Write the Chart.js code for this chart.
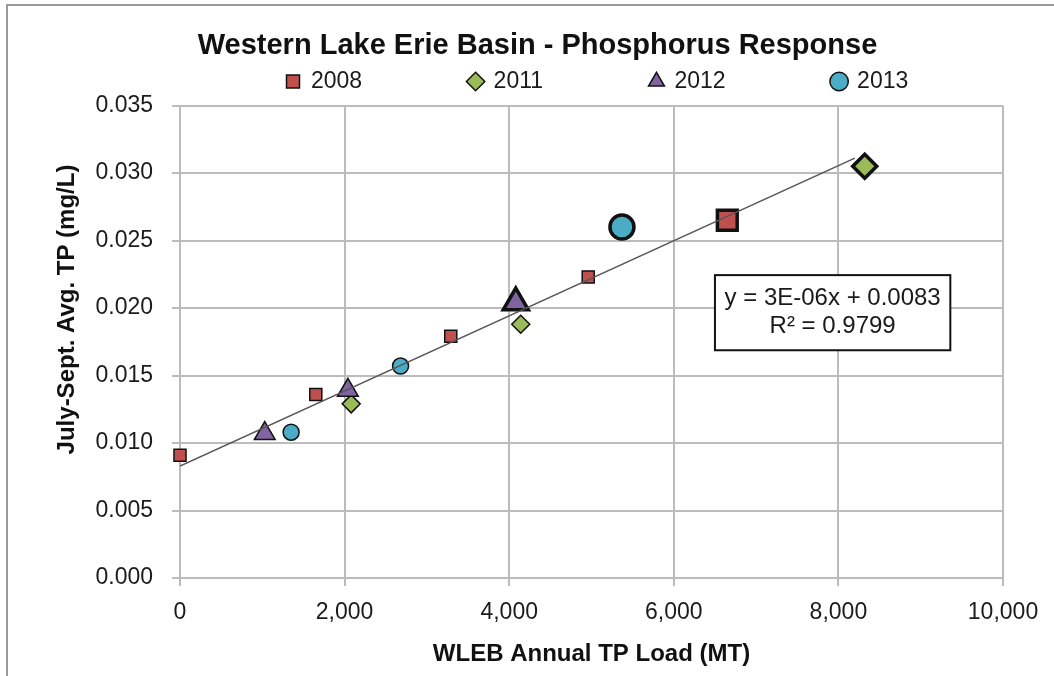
<!DOCTYPE html>
<html>
<head>
<meta charset="utf-8">
<script src="https://cdn.jsdelivr.net/npm/chart.js@4.4.1/dist/chart.umd.min.js"></script>
<style>
  body { margin: 0; background: #fff; }
  #wrap { position: relative; width: 1054px; height: 676px; }
  #frame { position: absolute; left: 6px; top: 4px; right: 0; bottom: 0;
           border-left: 2px solid #9a9a9a; border-top: 2px solid #9a9a9a; pointer-events: none; }
</style>
</head>
<body>
<div id="wrap"><canvas id="chart"></canvas><div id="frame"></div></div>
<script>
const FONT = "'Liberation Sans', Arial, Helvetica, sans-serif";
Chart.defaults.font.family = FONT;
Chart.defaults.color = '#1a1a1a';

// Text
const chartTitle = 'Western Lake Erie Basin - Phosphorus Response';
const xTitle = 'WLEB Annual TP Load (MT)';
const yTitle = 'July-Sept. Avg. TP (mg/L)';
const equationLines = ['y = 3E-06x + 0.0083', 'R\u00b2 = 0.9799'];

// Data: WLEB load (MT) vs July-Sept avg TP (mg/L), per year
const seriesNames = ['2008', '2011', '2012', '2013'];
const load2008 = [0, 1650, 3290, 4960, 6650];
const tp2008 = [0.0091, 0.0136, 0.0179, 0.0223, 0.0265];
const load2011 = [2080, 4140, 8320];
const tp2011 = [0.0129, 0.0188, 0.0305];
const load2012 = [1030, 2040, 4080];
const tp2012 = [0.0107, 0.0139, 0.0204];
const load2013 = [1350, 2680, 5370];
const tp2013 = [0.0108, 0.0157, 0.0260];

// Linear trendline end points
const trendName = 'Linear';
const trendLoad = [0, 8200];
const trendTp = [0.0083, 0.0311];

function points(xs, ys) {
  return xs.map((x, i) => ({ x: x, y: ys[i] }));
}
// last point in each year = full year value, drawn bigger
function lastBig(small, big) {
  return ctx => ctx.dataIndex === ctx.dataset.data.length - 1 ? big : small;
}

// spread legend items ~183px apart
const legendFontSize = 23;
const mctx = document.createElement('canvas').getContext('2d');
mctx.font = legendFontSize + 'px ' + FONT;
const labelW = mctx.measureText('2008').width;
const legendPad = 182.6 - (13 + legendFontSize / 2 + labelW);

const placeBlocks = {
  id: 'placeBlocks',
  afterLayout(chart) {
    const lg = chart.legend;
    const pad = lg.options.labels.padding;
    lg.top = 70 - pad;
    const lw = lg.lineWidths[0];
    const left = (2 * 286.5 - 900 - pad + lw) / 2;
    lg.left = left;
    lg.right = left + 900;
    chart.titleBlock.left += 36;
    chart.titleBlock.right += 36;
  }
};

const extras = {
  id: 'extras',
  afterDraw(chart) {
    const ctx = chart.ctx;
    const a = chart.chartArea;
    const w = a.right - a.left, h = a.bottom - a.top;
    // y axis title
    ctx.save();
    ctx.translate(67, 309.5);
    ctx.rotate(-Math.PI / 2);
    ctx.font = 'bold 24px ' + FONT;
    ctx.fillStyle = '#111';
    ctx.textAlign = 'center';
    ctx.textBaseline = 'middle';
    ctx.fillText(yTitle, 0, 0);
    ctx.restore();
    // equation box
    const bx = a.left + 0.65 * w, by = a.top + 0.359 * h;
    const bw = 0.286 * w, bh = 0.159 * h;
    ctx.save();
    ctx.fillStyle = '#fff';
    ctx.fillRect(bx, by, bw, bh);
    ctx.lineWidth = 2;
    ctx.strokeStyle = '#111';
    ctx.strokeRect(bx, by, bw, bh);
    ctx.font = '24px ' + FONT;
    ctx.fillStyle = '#1a1a1a';
    ctx.textAlign = 'center';
    ctx.textBaseline = 'middle';
    ctx.fillText(equationLines[0], bx + bw / 2, by + 23);
    ctx.fillText(equationLines[1], bx + bw / 2, by + 51);
    ctx.restore();
  }
};

const gridColor = '#bcbcbc';

// later years drawn on top (lower order = on top)
new Chart(document.getElementById('chart'), {
  type: 'scatter',
  data: {
    datasets: [
      {
        label: seriesNames[0], data: points(load2008, tp2008), order: 4, clip: false,
        pointStyle: 'rect', backgroundColor: '#c0504d', borderColor: '#111',
        pointRadius: lastBig(8.5, 14), pointBorderWidth: lastBig(1.5, 3.5)
      },
      {
        label: seriesNames[1], data: points(load2011, tp2011), order: 3, clip: false,
        pointStyle: 'rectRot', backgroundColor: '#9bbb59', borderColor: '#111',
        pointRadius: lastBig(9, 12), pointBorderWidth: lastBig(1.5, 3.5)
      },
      {
        label: seriesNames[2], data: points(load2012, tp2012), order: 2, clip: false,
        pointStyle: 'triangle', backgroundColor: '#8064a2', borderColor: '#111',
        pointRadius: lastBig(12, 14.5), pointBorderWidth: lastBig(1.5, 3.5)
      },
      {
        label: seriesNames[3], data: points(load2013, tp2013), order: 1, clip: false,
        pointStyle: 'circle', backgroundColor: '#4bacc6', borderColor: '#111',
        pointRadius: lastBig(8, 12), pointBorderWidth: lastBig(1.5, 3.5)
      },
      {
        label: trendName, data: points(trendLoad, trendTp), order: 0,
        showLine: true, pointRadius: 0, borderColor: '#555', borderWidth: 1.5
      }
    ]
  },
  options: {
    responsive: true,
    maintainAspectRatio: false,
    animation: false,
    events: [],
    layout: { padding: { left: 0, right: 51, top: 0, bottom: 0 } },
    plugins: {
      tooltip: { enabled: false },
      title: {
        display: true, text: chartTitle, color: '#111',
        font: { size: 29, weight: 'bold' },
        padding: { top: 28.4, bottom: 0 }
      },
      legend: {
        position: 'top',
        maxHeight: 42.3,
        labels: {
          usePointStyle: true, boxWidth: 13, boxHeight: 13,
          padding: legendPad, color: '#1a1a1a',
          font: { size: legendFontSize },
          filter: item => item.text !== trendName,
          sort: (a, b) => a.datasetIndex - b.datasetIndex
        }
      }
    },
    scales: {
      x: {
        type: 'linear', min: 0, max: 10000,
        ticks: {
          stepSize: 2000, padding: 13, maxRotation: 0, color: '#1a1a1a',
          font: { size: 23 },
          callback: v => v.toLocaleString('en-US')
        },
        grid: { color: gridColor, lineWidth: 2, tickLength: 8 },
        border: { color: gridColor, width: 2 },
        title: {
          display: true, text: xTitle, color: '#111',
          font: { size: 24, weight: 'bold' },
          padding: { top: 0, bottom: 7 }
        },
        afterFit: s => { s.height = 98; }
      },
      y: {
        min: 0, max: 0.035,
        ticks: {
          stepSize: 0.005, padding: 19, color: '#1a1a1a',
          font: { size: 23 },
          callback: v => v.toFixed(3)
        },
        grid: { color: gridColor, lineWidth: 2, tickLength: 8 },
        border: { color: gridColor, width: 2 },
        afterFit: s => { s.width = 180; }
      }
    }
  },
  plugins: [placeBlocks, extras]
});
</script>
</body>
</html>
